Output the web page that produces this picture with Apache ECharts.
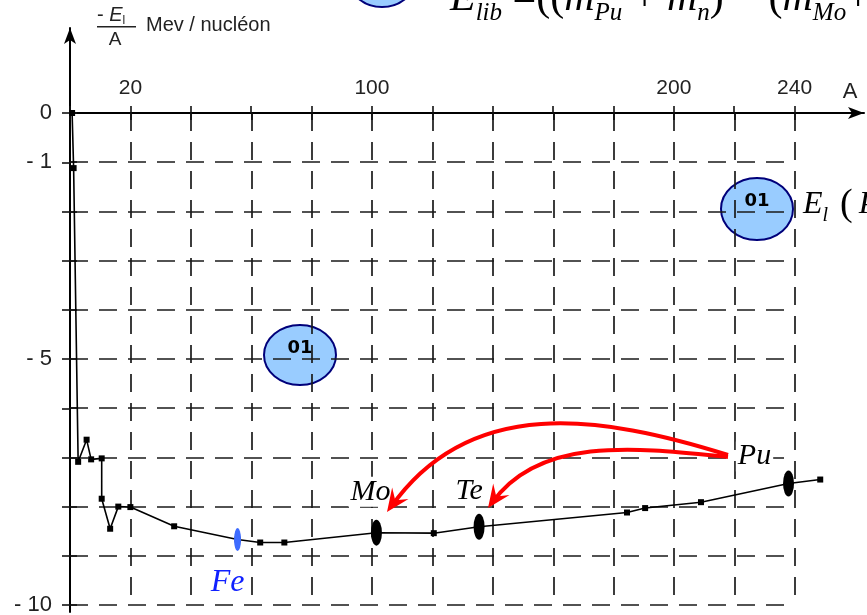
<!DOCTYPE html>
<html><head><meta charset="utf-8">
<script src="https://cdn.jsdelivr.net/npm/echarts@6/dist/echarts.min.js"></script>
<style>html,body{margin:0;padding:0;background:#fff}#c{width:867px;height:615px}</style>
</head><body><div id="c"></div>
<script>
// ---- data ----
const massNumbers = [0.7, 1.2, 2.7, 5.5, 7, 10.5, 10.5, 13.3, 16, 20, 34.5, 55.5, 63, 71, 101.5, 120.5, 135.5, 184.5, 190.5, 209, 238, 248.5];
const energyPerNucleon = [0, -1.12, -7.09, -6.64, -7.04, -7.02, -7.84, -8.45, -8.0, -8.01, -8.40, -8.67, -8.73, -8.73, -8.53, -8.54, -8.41, -8.12, -8.03, -7.91, -7.53, -7.45];
const nuclideNames = ['Fe', 'Mo', 'Te', 'Pu'];
const nuclideA = [55.5, 101.5, 135.5, 238];
const nuclideE = [-8.67, -8.53, -8.41, -7.53];
const xTickValues = [0, 20, 40, 60, 80, 100, 120, 140, 160, 180, 200, 220, 240];
const xLabelValues = [20, 100, 200, 240];
const yTickValues = [0, -1, -2, -3, -4, -5, -6, -7, -8, -9, -10];
const yLabelValues = [0, -1, -5, -10];

// ---- styles ----
const labelStyle = {
  Fe: {offset: [-10, 43], color: '#1020ff', fontSize: 32},
  Mo: {offset: [-6, -41], color: '#000', fontSize: 30},
  Te: {offset: [-10, -36], color: '#000', fontSize: 30},
  Pu: {offset: [-34, -27], color: '#000', fontSize: 30}
};
const markerStyle = {
  Fe: {size: [7, 23], color: '#3d6bff'},
  Mo: {size: [11, 26], color: '#000'},
  Te: {size: [11, 26], color: '#000'},
  Pu: {size: [11, 26], color: '#000'}
};

const chart = echarts.init(document.getElementById('c'), null, {renderer: 'canvas'});
const dash = {color: '#1a1a1a', width: 1.7, type: [18, 11]};
const tickLine = {color: '#111', width: 1.6};
const axisFont = {fontSize: 21, color: '#222', fontFamily: 'Liberation Sans, Arial, sans-serif'};
const hidden = {axisLine: {show: false}, axisTick: {show: false}, axisLabel: {show: false}, splitLine: {show: false}};

const curve = massNumbers.map((a, i) => [a, energyPerNucleon[i]]);
const nuclides = nuclideNames.map((n, i) => ({
  name: n,
  value: [nuclideA[i], nuclideE[i]],
  symbolSize: markerStyle[n].size,
  itemStyle: {color: markerStyle[n].color, opacity: 1},
  label: {
    show: true, position: 'inside', formatter: '{b}',
    offset: labelStyle[n].offset, color: labelStyle[n].color, opacity: 1,
    fontSize: labelStyle[n].fontSize, fontStyle: 'italic',
    fontFamily: 'Liberation Serif, Times New Roman, serif',
    backgroundColor: '#fff', padding: [0, 2]
  }
}));

function arrowHead(tip, from, len, half) {
  const dx = tip[0] - from[0], dy = tip[1] - from[1];
  const L = Math.hypot(dx, dy), ux = dx / L, uy = dy / L, px = -uy, py = ux;
  const bx = tip[0] - ux * len, by = tip[1] - uy * len;
  const nx = tip[0] - ux * len * 0.62, ny = tip[1] - uy * len * 0.62;
  return [tip, [bx + px * half, by + py * half], [nx, ny], [bx - px * half, by - py * half]];
}
const arrows = [
  {p0: [728, 455], c1: [600, 415], c2: [470, 395], p3: [387, 512]},
  {p0: [728, 457], c1: [640, 448], c2: [540, 435], p3: [488, 508]}
];
const arrowGraphics = [];
arrows.forEach(a => {
  arrowGraphics.push({
    type: 'bezierCurve', z: 10,
    shape: {x1: a.p0[0], y1: a.p0[1], cpx1: a.c1[0], cpy1: a.c1[1], cpx2: a.c2[0], cpy2: a.c2[1], x2: a.p3[0] + 4, y2: a.p3[1] - 5},
    style: {stroke: '#ff0000', lineWidth: 4, fill: null}
  });
  arrowGraphics.push({
    type: 'polygon', z: 10,
    shape: {points: arrowHead(a.p3, a.c2, 23, 10)},
    style: {fill: '#ff0000'}
  });
});

const serif = 'Liberation Serif, Times New Roman, serif';
const option = {
  animation: false,
  backgroundColor: '#fff',
  grid: [
    // 0: body with dashed grid, A 0..240, E -10..0
    {left: 70, top: 113, width: 725, height: 492, outerBoundsMode: 'none'},
    // 1: horizontal axis with arrow (A 0..263), same vertical range as body; holds the series
    {left: 70, top: 113, width: 794, height: 492, outerBoundsMode: 'none'},
    // 2: vertical axis with arrow (E -10.14..1.73)
    {left: 70, top: 28, width: 725, height: 584, outerBoundsMode: 'none'}
  ],
  xAxis: [
    {gridIndex: 0, type: 'value', min: 0, max: 240, interval: 20, position: 'top',
      axisLine: {show: false}, axisTick: {show: true, inside: true, length: 7, lineStyle: tickLine},
      axisLabel: {show: false}, splitLine: {show: true, lineStyle: dash}},
    {gridIndex: 1, type: 'value', min: 0, max: 263, position: 'top',
      axisLine: {show: true, onZero: false, symbol: ['none', 'arrow'], symbolSize: [9, 16], lineStyle: {color: '#000', width: 2}},
      axisTick: {show: true, customValues: xTickValues, length: 7, lineStyle: tickLine},
      axisLabel: Object.assign({show: true, customValues: xLabelValues, margin: 14}, axisFont),
      splitLine: {show: false}},
    Object.assign({gridIndex: 2, type: 'value', min: 0, max: 240}, hidden)
  ],
  yAxis: [
    {gridIndex: 0, type: 'value', min: -10, max: 0, interval: 1, position: 'left',
      axisLine: {show: false}, axisTick: {show: true, inside: true, length: 7, lineStyle: tickLine},
      axisLabel: {show: false}, splitLine: {show: true, lineStyle: dash}},
    Object.assign({gridIndex: 1, type: 'value', min: -10, max: 0}, hidden),
    {gridIndex: 2, type: 'value', min: -10.14, max: 1.73, position: 'left',
      axisLine: {show: true, onZero: false, symbol: ['none', 'arrow'], symbolSize: [9, 16], lineStyle: {color: '#000', width: 2}},
      axisTick: {show: true, customValues: yTickValues, length: 8, lineStyle: tickLine},
      axisLabel: Object.assign({show: true, customValues: yLabelValues, margin: 18,
        formatter: v => (v === 0 ? '0' : '- ' + Math.abs(v))}, axisFont, {fontSize: 22}),
      splitLine: {show: false}}
  ],
  series: [
    {type: 'line', xAxisIndex: 1, yAxisIndex: 1, data: curve, symbol: 'rect', symbolSize: 6, clip: false,
      lineStyle: {color: '#000', width: 1.6}, itemStyle: {color: '#000'}, z: 3, silent: true},
    {type: 'scatter', xAxisIndex: 1, yAxisIndex: 1, data: nuclides, symbol: 'circle', z: 5, clip: false, silent: true}
  ],
  graphic: [
    // y axis title: -E_l / A  Mev / nucléon
    {type: 'text', style: {x: 97, y: 15, text: '- {i|E}{s|l}', verticalAlign: 'middle', fill: '#222',
      font: '20px Liberation Sans, Arial, sans-serif',
      rich: {i: {fontSize: 20, fontStyle: 'italic', fill: '#222'}, s: {fontSize: 12, verticalAlign: 'bottom', lineHeight: 24, fill: '#222'}}}},
    {type: 'rect', shape: {x: 97, y: 26, width: 39, height: 1.5}, style: {fill: '#222'}},
    {type: 'text', style: {x: 115, y: 40, text: 'A', align: 'center', verticalAlign: 'middle', fill: '#222', font: '19px Liberation Sans, Arial, sans-serif'}},
    {type: 'text', style: {x: 146, y: 25, text: 'Mev / nucléon', verticalAlign: 'middle', fill: '#222', font: '20px Liberation Sans, Arial, sans-serif'}},
    {type: 'text', style: {x: 850, y: 92, text: 'A', align: 'center', verticalAlign: 'middle', fill: '#222', font: '22px Liberation Sans, Arial, sans-serif'}},
    // annotation bubbles
    {type: 'ellipse', shape: {cx: 382, cy: -25, rx: 35, ry: 32}, style: {fill: '#99ccff', stroke: '#00007a', lineWidth: 2}},
    {type: 'ellipse', shape: {cx: 300, cy: 355, rx: 36, ry: 30}, style: {fill: '#99ccff', stroke: '#00007a', lineWidth: 2}},
    {type: 'text', style: {x: 300, y: 348, text: '01', align: 'center', verticalAlign: 'middle', fill: '#000', font: 'bold 18px DejaVu Sans, sans-serif'}},
    {type: 'ellipse', shape: {cx: 757, cy: 209, rx: 36, ry: 31}, style: {fill: '#99ccff', stroke: '#00007a', lineWidth: 2}},
    {type: 'text', style: {x: 757, y: 201, text: '01', align: 'center', verticalAlign: 'middle', fill: '#000', font: 'bold 18px DejaVu Sans, sans-serif'}},
    // formulas (cut by the page edges)
    {type: 'text', style: {x: 450, y: -1, verticalAlign: 'middle', fill: '#000',
      text: '{m|E}{s|lib}{u| =((}{m|m}{s|Pu}{u| + }{m|m}{s|n}{u|) − (}{m|m}{s|Mo}{u|+}{m|m}{s|Te}{u|))}',
      rich: {
        m: {fontFamily: serif, fontStyle: 'italic', fontSize: 42, lineHeight: 54, fill: '#000'},
        u: {fontFamily: serif, fontSize: 42, lineHeight: 54, fill: '#000'},
        s: {fontFamily: serif, fontStyle: 'italic', fontSize: 25, lineHeight: 25, verticalAlign: 'bottom', fill: '#000'}
      }}},
    {type: 'text', style: {x: 803, y: 205, verticalAlign: 'middle', fill: '#000',
      text: '{m|E}{s|l}{u|(}{m|P}',
      rich: {
        m: {fontFamily: serif, fontStyle: 'italic', fontSize: 32, lineHeight: 42, fill: '#000'},
        u: {fontFamily: serif, fontSize: 38, lineHeight: 42, fill: '#000', padding: [0, 6, 0, 12]},
        s: {fontFamily: serif, fontStyle: 'italic', fontSize: 20, lineHeight: 20, verticalAlign: 'bottom', fill: '#000'}
      }}}
  ].concat(arrowGraphics)
};
chart.setOption(option);
</script>
</body></html>
